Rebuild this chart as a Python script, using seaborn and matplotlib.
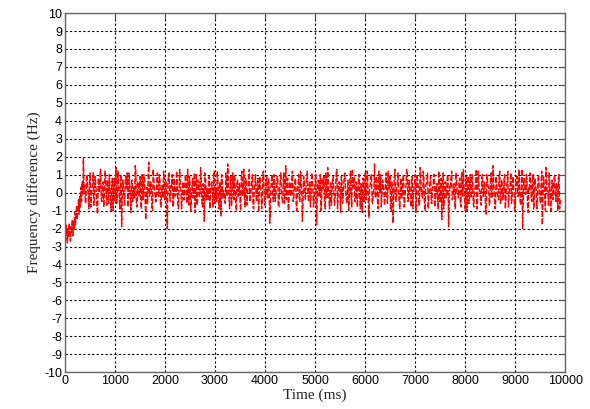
import numpy as np
import pandas as pd
import matplotlib
matplotlib.use("Agg")
from matplotlib import pyplot as plt
import seaborn as sns

# Frequency difference (Hz): start-up ramp then noise around 0
ramp = [-2.1, -2.6, -1.8, -2.4, -2.8, -2.0, -2.5, -1.7, -2.3, -2.7, -1.9, -2.2, -1.5, -2.4, -1.6, -2.0,
        -1.1, -1.8, -1.3, -0.7, -1.5, -0.9, -0.4, -1.2, -0.2, -0.8, 0.3, -0.5, 0.6, -0.1, 1.9, 0.2]
noise_a = [
    0.4, -0.6, 1.0, -0.2, 0.7, -0.8, 0.3, 1.1, -0.4, 0.5, -0.9, 0.8, 0.0, 1.3, -0.5, 0.6, -0.1, 0.9, -0.7, 0.2,
    1.0, -0.3, 0.5, -1.0, 0.8, 0.1, -0.6, 1.2, -0.2, 0.4, -1.9, 0.7, -0.4, 0.9, 0.2, -0.8, 1.1, -0.1, 0.6, -0.5,
    0.3, 1.5, -0.7, 0.6, -0.2, 0.9, -0.9, 0.4, 1.0, -0.3, 0.2, -0.6, 1.7, -0.1, 0.5, -1.0, 0.8, 0.0, -0.5, 1.1,
    -0.2, 0.7, -0.8, 0.3, 1.2, -0.4, 0.6, -2.0, 0.9, -0.3, 0.4, 1.0, -0.7, 0.2, -0.1, 0.8, -0.9, 1.3, 0.1, -0.5,
    0.6, -0.2, 1.0, -0.6, 0.4, 0.9, -1.0, 0.3, -0.3, 1.1, 0.0, -0.7, 0.7, -0.2, 1.4, -0.5, 0.5, -1.6, 0.8, 0.2,
    -0.4, 0.9, -0.1, 0.6, -0.8, 1.2, 0.3, -0.5, 0.7, -0.9, 0.4, 1.0, -0.3, 0.1, -0.6, 0.8, 1.6, -0.2, 0.5, -0.7,
    1.1, -0.4, 0.3, -1.0, 0.7, 0.0, -0.6, 0.9, -0.2, 1.3, -0.8, 0.5, -0.1, 0.8, -0.5, 0.2, 1.0, -0.9, 0.6, -0.3,
    0.4, -1.1, 0.9, 0.1, -0.4, 1.2, -0.7, 0.5, -0.2, 0.8, -1.7, 0.3, 1.0, -0.5, 0.6, -0.1, 0.9, -0.8, 0.2, 1.1,
    -0.3, 0.7, -0.6, 1.5, 0.0, -0.9, 0.6, -0.2, 1.0, -0.5, 0.3, 0.8, -1.0, 0.5, -0.3, 1.2, 0.1, -0.7, 0.7, -0.4,
    0.9, -0.1, 0.4, -0.8, 1.1, 0.2, -0.5, 0.8, -1.8, 0.6, -0.2, 1.0, -0.6, 0.3, 0.9, -0.9, 0.5, 1.4, -0.3, 0.1,
    -0.7, 0.8, 0.0, -0.4, 1.2, -0.9, 0.6, -0.1, 0.9, -0.6, 0.4, 1.1, -0.3, 0.2, -1.0, 0.7, -0.2, 1.3, 0.3, -0.5,
    0.6, -0.8, 1.0, -0.2, 0.5, -1.1, 0.8, 0.1, -0.4, 1.2, -0.7, 0.3, 0.9, -0.5, 0.0, 1.6, -0.3, 0.7, -0.9, 0.4,
    1.0, -0.1, 0.5, -0.7, 0.8, -0.3, 1.2, 0.2, -1.0, 0.6, -1.7, 0.9, -0.4, 0.3, 1.1, -0.6, 0.4, -0.2, 0.8, -0.8,
    0.2, 1.3, -0.5, 0.7, -0.1, 0.9, -0.9, 0.4, 1.0, -0.4, 0.6, -0.7, 1.4, 0.0, -0.3, 0.8, -1.0, 0.5, 1.1, -0.2,
    0.7, -0.6, 0.3, 1.0, -0.8, 0.5, -0.2, 1.2, -0.5, 0.8, 0.1, -0.9, 0.6, -0.3, 1.0, -1.9, 0.4, 0.9, -0.4, 0.2,
    -0.6, 1.1, 0.0, -0.3, 0.8, -0.8, 0.5, 1.3, -0.1, 0.6, -1.0, 0.9, -0.4, 0.3, 1.0, -0.6, 0.2, 0.7, -0.9, 1.2,
    0.1, -0.5, 0.9, -0.2, 0.6, -1.1, 1.0, 0.3, -0.7, 0.8, -0.3, 1.5, 0.0, -0.8, 0.5, -0.2, 1.1, -0.6, 0.7, -0.4,
    0.9, -0.9, 0.4, 1.2, -0.3, 0.6, -0.6, 0.9, 0.1, -1.0, 0.7, -0.2, 1.3, -0.5, 0.4, -2.0, 0.8, 0.0, 1.0, -0.7,
    0.3, 1.1, -0.4, 0.6, -0.9, 0.8, 0.2, -0.6, 1.0, -0.2, 0.5, -1.8, 0.9, -0.3, 1.4, 0.0, -0.7, 0.6, -1.0, 0.7,
    -0.2, 1.0, -0.5, 0.4, 0.8, -0.9,
]
noise_b = [
    -0.5, 0.8, 0.2, -0.9, 1.1, -0.3, 0.5, -0.7, 0.9, 0.0, -1.2, 0.6, 1.0, -0.4, 0.3, -0.8, 1.2, -0.1, 0.7, -0.6,
    0.5, -1.0, 0.8, 0.3, -0.5, 1.4, -0.2, 0.6, -0.9, 1.0, -0.3, 0.2, -0.7, 0.9, 1.1, -0.6, 0.4, -1.1, 0.7, 0.0,
    -0.3, 1.2, -0.8, 0.5, 0.1, -0.6, 1.0, -0.4, 0.8, -1.5, 0.3, 0.9, -0.2, 0.6, -0.9, 1.3, 0.2, -0.5, 0.7, -0.1,
    1.0, -0.7, 0.4, -0.3, 0.9, 0.2, -1.0, 0.6, 1.1, -0.5, 0.3, -0.8, 0.8, -0.2, 1.2, -0.6, 0.1, 0.7, -0.9, 0.5,
    -0.4, 0.9, -0.1, 1.3, -0.7, 0.4, -0.3, 0.8, 0.0, -1.1, 1.0, -0.5, 0.6, -0.2, 0.9, -0.8, 0.3, 1.1, -0.4, 0.2,
    0.7, -0.9, 0.5, -0.1, 1.0, -0.6, 0.2, 1.2, -0.3, 0.6, -1.3, 0.8, 0.1, -0.5, 1.1, -0.2, 0.4, -0.9, 0.9, -0.4,
    0.3, 1.0, -0.6, 0.7, -0.2, 0.5, -1.0, 1.2, 0.0, -0.4, 0.8, -0.7, 0.4, 1.3, -0.3, 0.6, -0.8, 0.2, 1.0, -0.5,
    0.8, -0.2, 0.3, -0.9, 1.1, 0.1, -0.6, 0.9, -0.3, 0.5, -1.2, 0.7, -0.1, 1.0, -0.5, 0.4, 0.9, -0.8, 0.6, -0.2,
    -0.6, 1.1, 0.3, -0.4, 0.8, -1.0, 0.5, 0.0, 1.2, -0.3, 0.7, -0.7, 0.2, 1.0, -0.5, 0.6, -1.6, 0.9, -0.1, 0.4,
    1.2, -0.5, 0.6, -0.2, 0.9, -0.8, 0.3, 1.0, -0.4, 0.7, -0.1, -1.0, 0.8, 0.2, -0.6, 1.1, -0.3, 0.5, -0.9, 0.6,
    0.0, 0.9, -0.7, 0.4, 1.3, -0.2, 0.6, -1.1, 0.8, -0.4, 1.0, 0.1, -0.6, 0.7, -0.3, 1.2, -0.8, 0.3, 0.9, -0.5,
    0.5, -0.3, 1.0, -0.9, 0.2, 0.8, -0.5, 1.1, -0.1, 0.6, -1.4, 0.4, 1.0, -0.6, 0.3, -0.2, 0.9, -0.7, 1.2, 0.0,
    -0.8, 0.7, 0.1, -0.4, 1.1, -0.6, 0.5, 0.9, -1.0, 0.3, -0.2, 1.3, -0.5, 0.6, 0.0, -0.9, 0.8, -0.3, 1.0, -0.6,
    0.4, 1.1, -0.4, 0.2, -0.8, 0.9, -0.1, 0.6, -1.1, 1.0, 0.3, -0.5, 0.7, -0.2, 1.2, -0.7, 0.4, 0.8, -0.9, 0.1,
    0.9, -0.6, 0.3, 1.0, -0.3, 0.5, -0.9, 0.7, 0.2, -1.5, 1.1, -0.4, 0.6, -0.1, 0.9, -0.7, 0.3, 1.2, -0.2, 0.5,
    -0.9, 0.8, 0.0, 0.6, -0.5, 1.1, -0.2, 0.4, -1.0, 0.9, 0.3, -0.6, 1.0, -0.3, 0.7, -0.8, 0.2, 1.3, -0.4, 0.6,
    0.1, -0.7, 1.0, -0.2, 0.5, -1.2, 0.8, 0.3, -0.5, 1.1, -0.1, 0.6, -0.9, 0.9, 0.0, -0.4, 1.2, -0.6, 0.4, -0.3,
    1.0, -0.4, 0.6, -0.8, 0.2, 1.1, -0.3, 0.7, -1.0, 0.5, 0.9, -0.2, 0.3, -0.7, 1.3, -0.5, 0.6, -0.1, 0.8, -1.1,
    0.2, 0.9, -0.5, 1.0, -0.2, 0.4, -0.9, 0.8, 0.1, -0.6, 1.2, -0.3, 0.5, -1.0, 0.7, 0.0, 1.1, -0.7, 0.3, -0.4,
    0.8, -0.1, 0.5, -1.0, 1.0, -0.4, 0.7, 0.2, -0.8, 0.9, -0.3, 1.4, -0.6, 0.4, -0.1, 0.8, -0.9, 0.6, 1.1, -0.5,
    0.3, -0.8, 0.9, 0.0, -0.4, 1.0, -0.7, 0.6, -0.2, 1.2, -1.3, 0.5, 0.8, -0.5, 0.2,
]
# interleave the two read-off passes so the trace has the full sample density
noise = [v for pair in zip(noise_a, noise_b) for v in pair]
freq_diff_hz = ramp + noise
t_end_ms = 9900
time_ms = np.linspace(0, t_end_ms, len(freq_diff_hz))

df = pd.DataFrame({"time": time_ms, "freq": freq_diff_hz})

sns.set_style("white")
plt.rcParams["font.family"] = ["Liberation Sans", "DejaVu Sans"]
plt.rcParams["axes.unicode_minus"] = False

fig = plt.figure(figsize=(5.9, 4.09), dpi=100)
ax = fig.add_axes([0.110, 0.090, 0.848, 0.878])

sns.lineplot(data=df, x="time", y="freq", ax=ax, color="red", lw=1.0,
             estimator=None, sort=False)
ax.lines[0].set_linestyle((0, (4, 1.2)))

ax.set_xlim(0, 10000)
ax.set_ylim(-10, 10)
ax.set_xticks(np.arange(0, 10001, 1000))
ax.set_yticks(np.arange(-10, 11, 1))
ax.grid(True, color="black", linestyle=(0, (2, 2)), lw=0.8)
ax.tick_params(direction="in", top=True, right=True, length=4, width=0.8,
               labelsize=9, colors="0.3", labelcolor="black", pad=2)
for s in ax.spines.values():
    s.set_color("0.4")
    s.set_linewidth(1.0)

ax.set_xlabel("Time (ms)", family="Liberation Serif", fontsize=11, labelpad=1)
ax.set_ylabel("Frequency difference (Hz)", family="Liberation Serif", fontsize=11, labelpad=2)

fig.savefig("out.png", dpi=100)
